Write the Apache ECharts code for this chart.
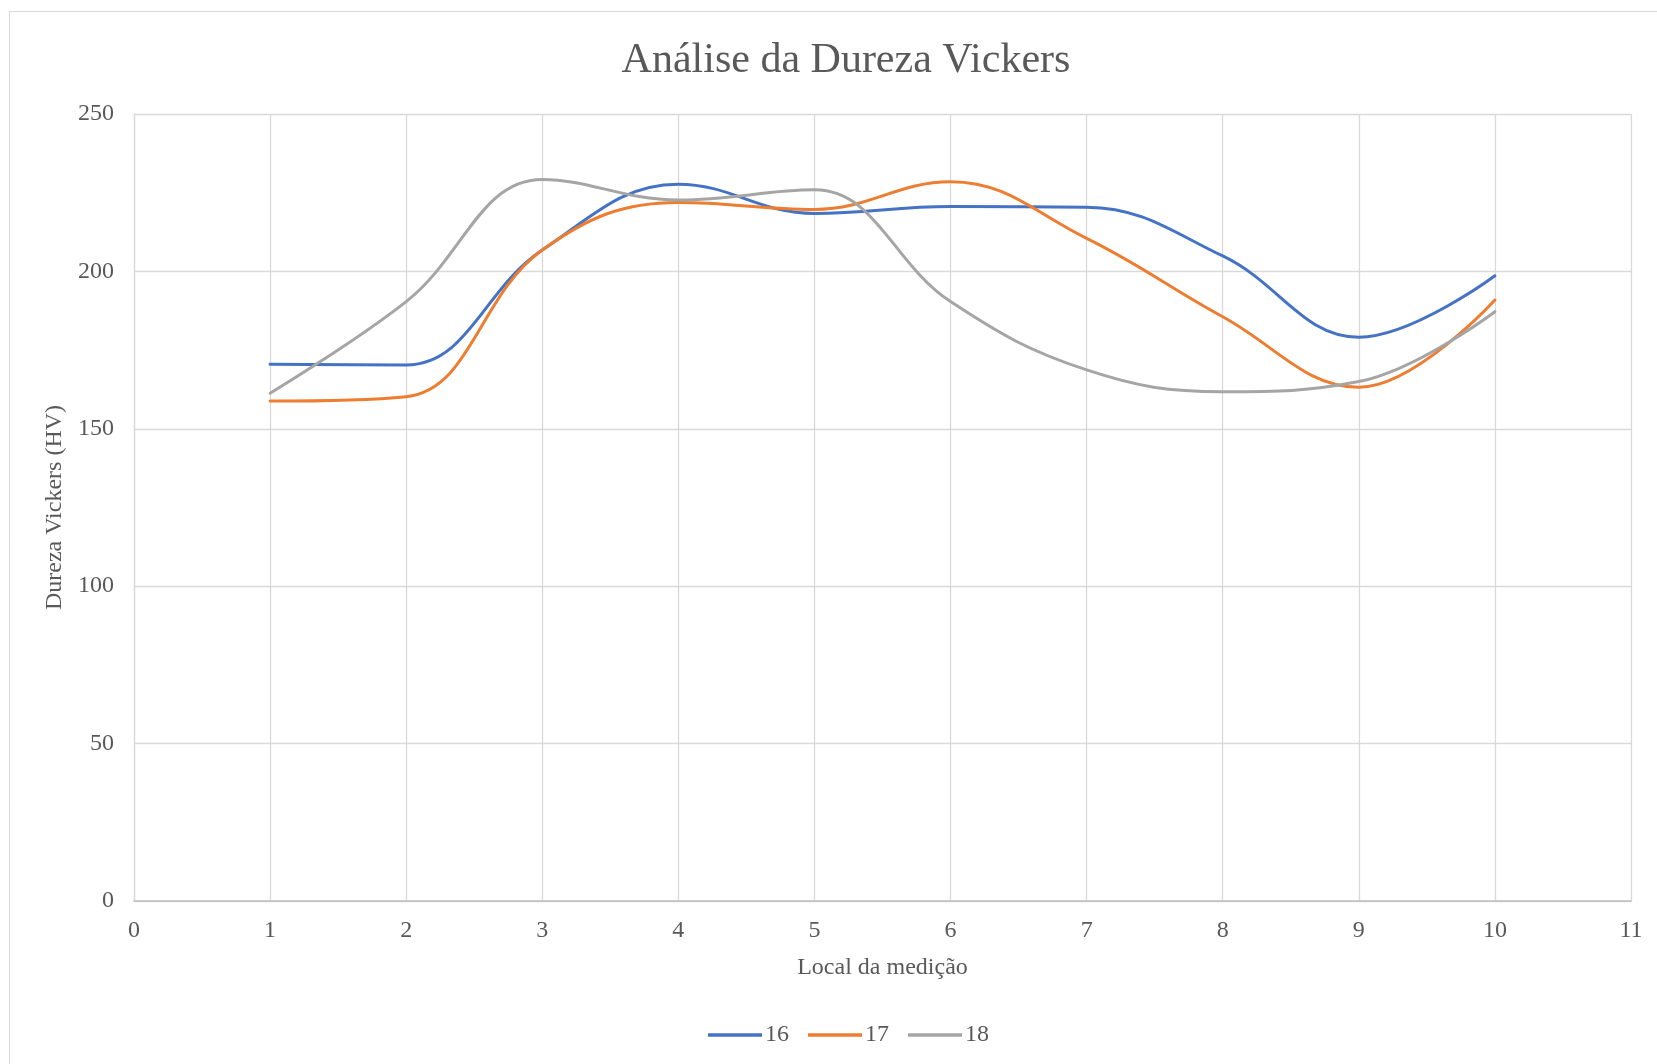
<!DOCTYPE html>
<html>
<head>
<meta charset="utf-8">
<script src="https://cdn.jsdelivr.net/npm/echarts@6/dist/echarts.min.js"></script>
<style>
html,body{margin:0;padding:0;background:#fff;}
#c{width:1657px;height:1064px;}
</style>
</head>
<body>
<div id="c"></div>
<script>
const positions = [1, 2, 3, 4, 5, 6, 7, 8, 9, 10];
const seriesNames = ['16', '17', '18'];
const s16 = [170.5, 170.3, 206.8, 227.7, 218.4, 220.6, 220.4, 204.9, 179.1, 198.6];
const s17 = [158.8, 160.2, 206.8, 221.9, 219.7, 228.5, 210.5, 185.6, 163.2, 190.9];
const s18 = [161.3, 190.4, 229.2, 222.7, 225.9, 190.4, 168.7, 161.8, 165.0, 187.2];
const colors = ['#4472C4', '#ED7D31', '#A5A5A5'];
const yTicks = [0, 50, 100, 150, 200, 250];
const xTicks = [0, 1, 2, 3, 4, 5, 6, 7, 8, 9, 10, 11];

const font = '"Liberation Serif", "Times New Roman", serif';
const allData = [s16, s17, s18];

const chart = echarts.init(document.getElementById('c'), null, {renderer: 'canvas'});
chart.setOption({
  animation: false,
  backgroundColor: '#ffffff',
  textStyle: {fontFamily: font},
  graphic: [{
    type: 'rect', silent: true, z: -10,
    shape: {x: 9.5, y: 11.5, width: 1700, height: 1100},
    style: {fill: 'none', stroke: '#d9d9d9', lineWidth: 1}
  }],
  title: {
    text: 'Análise da Dureza Vickers',
    left: 841, textAlign: 'center', top: 35,
    textStyle: {fontFamily: font, fontSize: 42, fontWeight: 'normal', color: '#595959'}
  },
  grid: {left: 134, right: 26, top: 114, bottom: 163, containLabel: false},
  legend: {
    data: seriesNames,
    top: 1018, left: 703,
    icon: 'rect', itemWidth: 54, itemHeight: 3.5, itemGap: 19,
    textStyle: {fontFamily: font, fontSize: 24, color: '#595959', padding: [0, 0, 0, -2]}
  },
  xAxis: {
    type: 'value', min: xTicks[0], max: xTicks[xTicks.length - 1], interval: 1,
    name: 'Local da medição', nameLocation: 'middle', nameGap: 55,
    nameTextStyle: {fontFamily: font, fontSize: 24, color: '#595959'},
    axisLine: {show: true, lineStyle: {color: '#bfbfbf', width: 1.5}},
    axisTick: {show: false},
    axisLabel: {fontFamily: font, fontSize: 24, color: '#595959', margin: 18},
    splitLine: {show: true, lineStyle: {color: '#d9d9d9', width: 1.3}}
  },
  yAxis: {
    type: 'value', min: yTicks[0], max: yTicks[yTicks.length - 1], interval: 50,
    name: 'Dureza Vickers (HV)', nameLocation: 'middle', nameGap: 62, nameRotate: 90,
    nameTextStyle: {fontFamily: font, fontSize: 24, color: '#595959'},
    axisLine: {show: true, lineStyle: {color: '#d9d9d9', width: 1.3}},
    axisTick: {show: false},
    axisLabel: {fontFamily: font, fontSize: 24, color: '#595959', margin: 20},
    splitLine: {show: true, lineStyle: {color: '#d9d9d9', width: 1.3}}
  },
  series: seriesNames.map((n, i) => ({
    name: n, type: 'line', smooth: 0.4, showSymbol: false, symbol: 'none',
    color: colors[i],
    lineStyle: {width: 3, color: colors[i], cap: 'round'},
    data: positions.map((x, j) => [x, allData[i][j]])
  }))
});
</script>
</body>
</html>
